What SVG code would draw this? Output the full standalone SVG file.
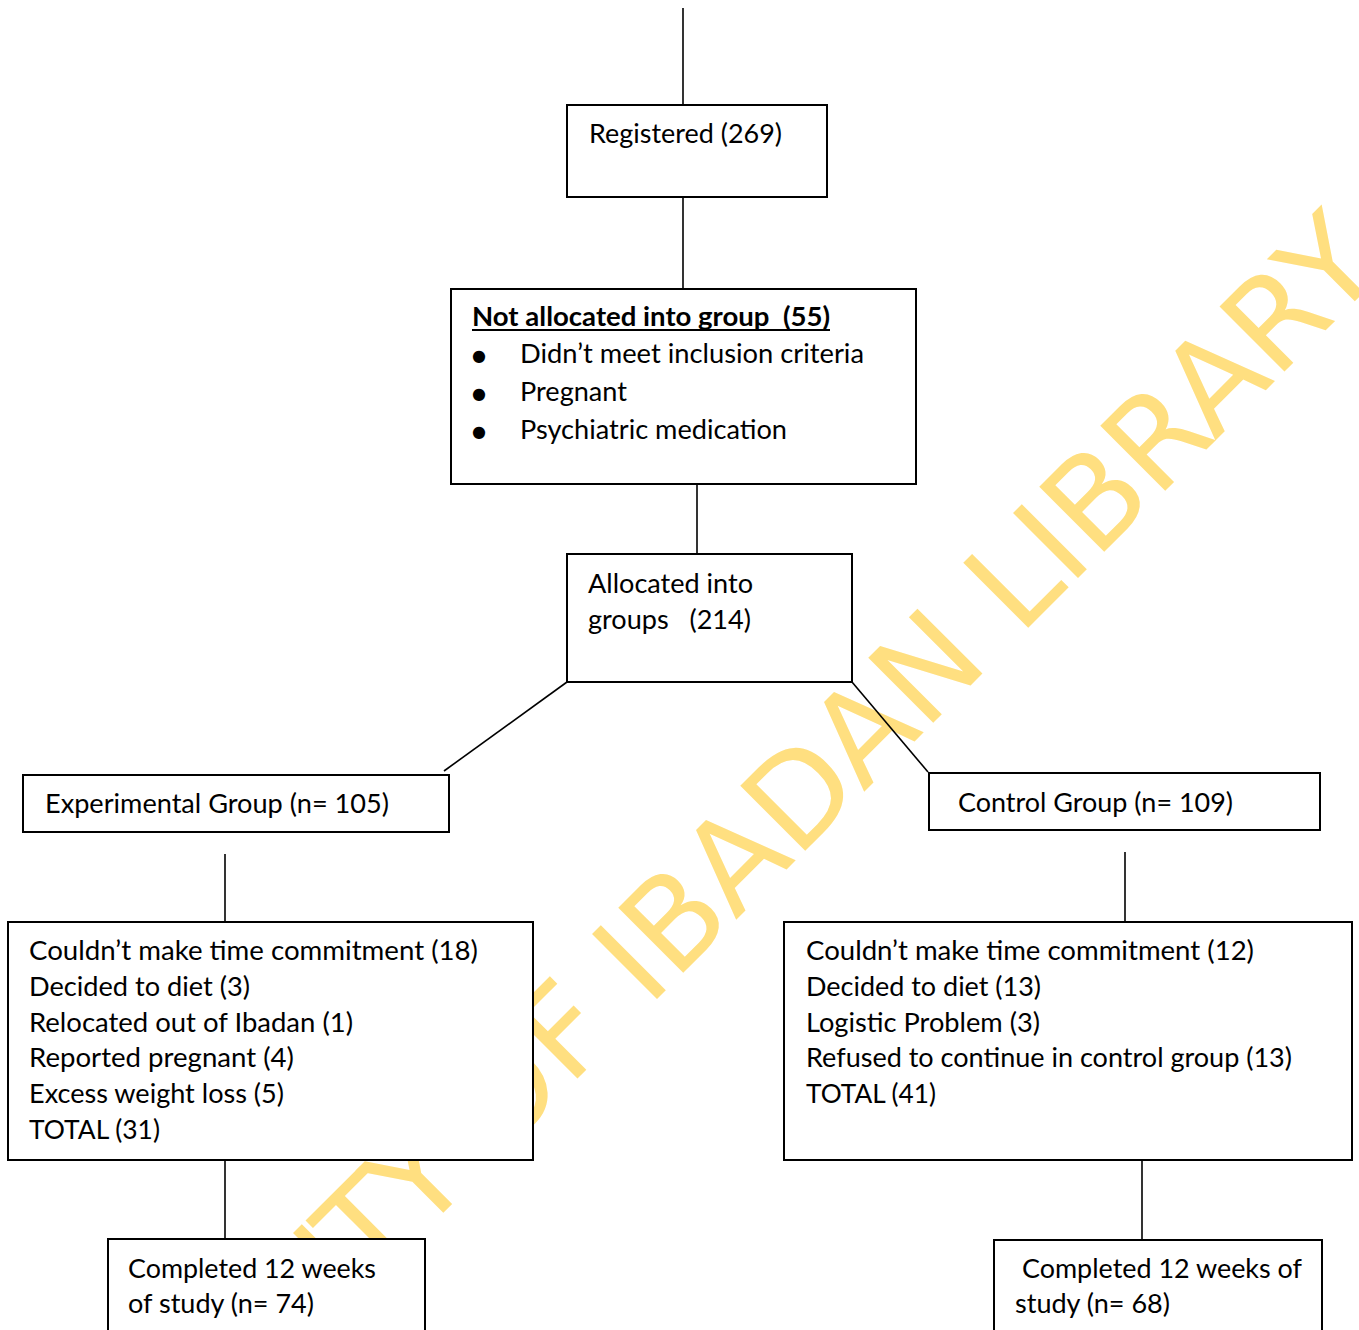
<svg xmlns="http://www.w3.org/2000/svg" width="1359" height="1330" viewBox="0 0 1359 1330">
<style>
  .box { fill: #ffffff; stroke: #000000; stroke-width: 2; }
  .t { font-family: Lato, "Open Sans", "Liberation Sans", sans-serif; font-size: 26.67px; fill: #000000; white-space: pre; }
  .b { font-weight: bold; }
  .ul { stroke: #000000; stroke-width: 1.8; }
  .bul { font-family: "DejaVu Sans", sans-serif; font-size: 16px; fill: #000000; text-anchor: middle; }
  .wm { font-family: "DejaVu Sans", sans-serif; font-size: 126px; fill: #FFDF80; white-space: pre; }
  .conn line { stroke: #000000; stroke-width: 1.6; }
</style>
<rect x="0" y="0" width="1359" height="1330" fill="#ffffff"/>
<g id="watermark">
  <text class="wm" transform="translate(828,828) rotate(-45)" y="0"><tspan x="-1188" letter-spacing="-6.6">UNIVERSITY</tspan><tspan x="-506"> OF IBADAN LIBRARY</tspan></text>
</g>
<g id="registered">
  <rect class="box" x="567" y="105" width="260" height="92"/>
  <text class="t" x="589" y="143" textLength="193" lengthAdjust="spacingAndGlyphs">Registered (269)</text>
</g>
<g id="not-allocated">
  <rect class="box" x="451" y="289" width="465" height="195"/>
  <text class="t b" x="472" y="326" textLength="358" lengthAdjust="spacingAndGlyphs">Not allocated into group  (55)</text>
  <line class="ul" x1="472" y1="330" x2="830" y2="330"/>
  <text class="bul" x="479" y="361">●</text>
  <text class="t" x="520" y="363" textLength="344" lengthAdjust="spacingAndGlyphs">Didn’t meet inclusion criteria</text>
  <text class="bul" x="479" y="399">●</text>
  <text class="t" x="520" y="401" textLength="107" lengthAdjust="spacingAndGlyphs">Pregnant</text>
  <text class="bul" x="479" y="437">●</text>
  <text class="t" x="520" y="439" textLength="267" lengthAdjust="spacingAndGlyphs">Psychiatric medication</text>
</g>
<g id="allocated">
  <rect class="box" x="567" y="554" width="285" height="128"/>
  <text class="t" x="588" y="593" textLength="165" lengthAdjust="spacingAndGlyphs">Allocated into</text>
  <text class="t" x="588" y="629" textLength="163" lengthAdjust="spacingAndGlyphs">groups   (214)</text>
</g>
<g id="experimental">
  <rect class="box" x="23" y="775" width="426" height="57"/>
  <text class="t" x="45" y="813" textLength="344" lengthAdjust="spacingAndGlyphs">Experimental Group (n= 105)</text>
</g>
<g id="control">
  <rect class="box" x="929" y="773" width="391" height="57"/>
  <text class="t" x="958" y="812" textLength="275" lengthAdjust="spacingAndGlyphs">Control Group (n= 109)</text>
</g>
<g id="exp-dropouts">
  <rect class="box" x="8" y="922" width="525" height="238"/>
  <text class="t" x="29" y="960" textLength="449" lengthAdjust="spacingAndGlyphs">Couldn’t make time commitment (18)</text>
  <text class="t" x="29" y="996" textLength="221" lengthAdjust="spacingAndGlyphs">Decided to diet (3)</text>
  <text class="t" x="29" y="1032" textLength="324" lengthAdjust="spacingAndGlyphs">Relocated out of Ibadan (1)</text>
  <text class="t" x="29" y="1067" textLength="265" lengthAdjust="spacingAndGlyphs">Reported pregnant (4)</text>
  <text class="t" x="29" y="1103" textLength="255" lengthAdjust="spacingAndGlyphs">Excess weight loss (5)</text>
  <text class="t" x="29" y="1139" textLength="131" lengthAdjust="spacingAndGlyphs">TOTAL (31)</text>
</g>
<g id="ctrl-dropouts">
  <rect class="box" x="784" y="922" width="568" height="238"/>
  <text class="t" x="806" y="960" textLength="448" lengthAdjust="spacingAndGlyphs">Couldn’t make time commitment (12)</text>
  <text class="t" x="806" y="996" textLength="235" lengthAdjust="spacingAndGlyphs">Decided to diet (13)</text>
  <text class="t" x="806" y="1032" textLength="234" lengthAdjust="spacingAndGlyphs">Logistic Problem (3)</text>
  <text class="t" x="806" y="1067" textLength="486" lengthAdjust="spacingAndGlyphs">Refused to continue in control group (13)</text>
  <text class="t" x="806" y="1103" textLength="130" lengthAdjust="spacingAndGlyphs">TOTAL (41)</text>
</g>
<g id="exp-completed">
  <rect class="box" x="108" y="1239" width="317" height="100"/>
  <text class="t" x="128" y="1278" textLength="248" lengthAdjust="spacingAndGlyphs">Completed 12 weeks</text>
  <text class="t" x="128" y="1313" textLength="186" lengthAdjust="spacingAndGlyphs">of study (n= 74)</text>
</g>
<g id="ctrl-completed">
  <rect class="box" x="994" y="1240" width="328" height="100"/>
  <text class="t" x="1022" y="1278" textLength="280" lengthAdjust="spacingAndGlyphs">Completed 12 weeks of</text>
  <text class="t" x="1015" y="1313" textLength="155" lengthAdjust="spacingAndGlyphs">study (n= 68)</text>
</g>
<g id="connectors" class="conn">
  <line x1="683" y1="8" x2="683" y2="105"/>
  <line x1="683" y1="197" x2="683" y2="289"/>
  <line x1="697" y1="484" x2="697" y2="554"/>
  <line x1="567" y1="682" x2="444" y2="771"/>
  <line x1="852" y1="682" x2="928" y2="772"/>
  <line x1="225" y1="854" x2="225" y2="922"/>
  <line x1="1125" y1="852" x2="1125" y2="922"/>
  <line x1="225" y1="1160" x2="225" y2="1239"/>
  <line x1="1142" y1="1160" x2="1142" y2="1240"/>
</g>
</svg>
